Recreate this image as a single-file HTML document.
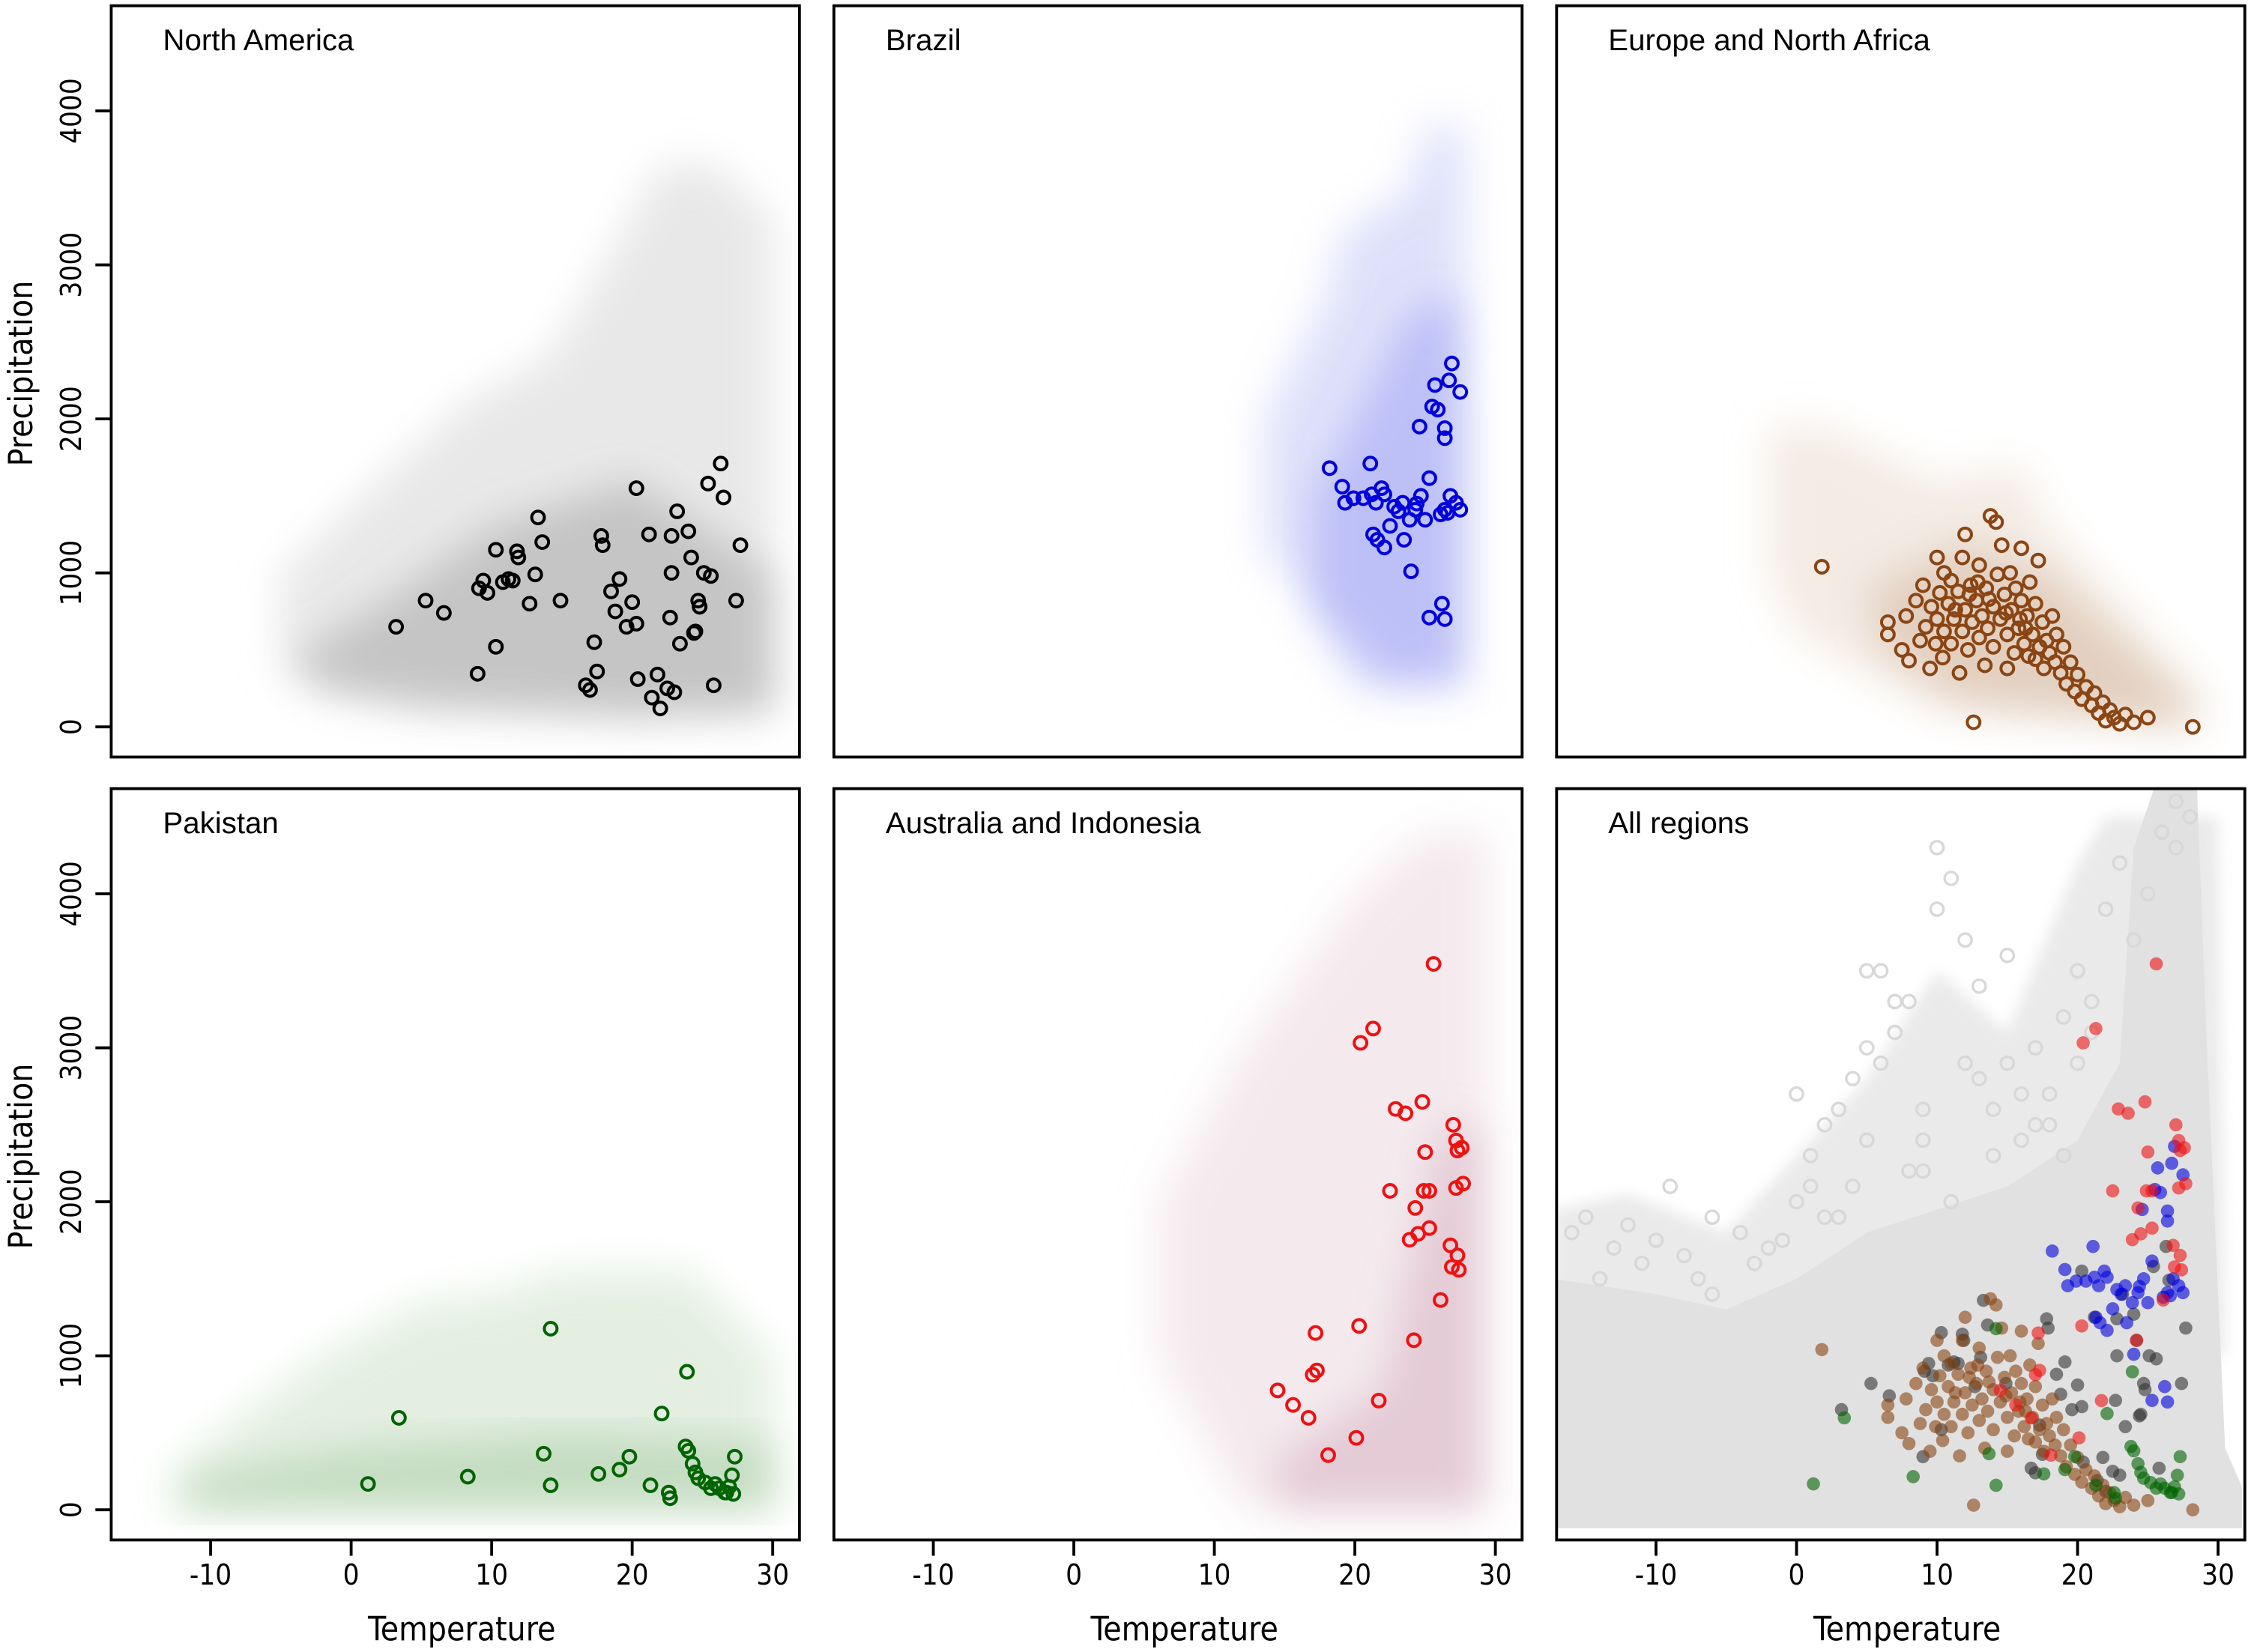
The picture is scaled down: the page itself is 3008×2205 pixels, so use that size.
<!DOCTYPE html>
<html><head><meta charset="utf-8"><style>
html,body{margin:0;padding:0;background:#fff;}
svg{display:block;font-family:"Liberation Sans","DejaVu Sans",sans-serif;}
.ax{font-family:"DejaVu Sans Condensed","DejaVu Sans","Liberation Sans",sans-serif;}
</style></head><body>
<svg id="fig" xmlns="http://www.w3.org/2000/svg" width="3008" height="2205" viewBox="0 0 1568 1150">
<defs>
<filter id="blur" x="-20%" y="-20%" width="140%" height="140%"><feGaussianBlur stdDeviation="14"/></filter>
<filter id="blur2" x="-20%" y="-20%" width="140%" height="140%"><feGaussianBlur stdDeviation="5"/></filter>
</defs>
</svg>
<script>
// ---- data (temperature, precipitation) ----
var xTicks = [-10, 0, 10, 20, 30];
var yTicks = [0, 1000, 2000, 3000, 4000];
var panelTitles = ["North America", "Brazil", "Europe and North Africa", "Pakistan", "Australia and Indonesia", "All regions"];
var naTemp = [3.2,5.3,6.6,9,9.1,9.4,9.7,10.3,10.3,10.8,11.2,11.5,11.8,11.9,12.7,13.1,13.3,13.6,14.9,16.7,17,17.3,17.5,17.8,17.9,18.5,18.8,19.1,19.6,20,20.3,20.3,20.4,21.2,21.4,21.8,22,22.5,22.7,22.8,22.8,23,23.2,23.4,24,24.2,24.5,24.4,24.7,24.8,25.1,25.4,25.8,26.3,26.5,27.4,27.7,25.6];
var naPrec = [650,820,740,345,900,950,870,520,1150,940,960,950,1140,1100,800,990,1360,1200,820,270,240,550,360,1240,1180,880,750,960,650,810,670,1550,310,1250,190,340,120,250,710,1000,1240,225,1400,540,1270,1100,620,610,820,780,1000,1580,270,1710,1490,820,1180,980];
var brTemp = [18.2,19.1,19.3,19.9,20.6,21.1,21.2,21.5,21.9,22.1,21.6,21.3,22.1,22.5,22.8,23.1,23.4,23.5,23.9,24.3,24.7,25.0,25.3,24.6,25.5,25.7,25.9,26.4,26.9,26.7,27.5,26.4,26.6,26.4,27.2,27.5,24.0,25.3,26.2,26.4,24.4,26.1,26.8];
var brPrec = [1680,1560,1455,1485,1485,1710,1510,1455,1550,1510,1215,1250,1165,1305,1430,1400,1455,1215,1345,1410,1500,1345,1615,1950,2080,2220,2060,1940,2360,2250,2175,1875,1390,1410,1455,1410,1010,710,800,700,1450,1380,1500];
var euTemp = [1.8,6.5,6.5,7.5,7.8,8,8.5,8.8,9,9.2,9.5,9.6,10,10,10.2,10.4,10.5,10.8,11,11,11.2,11.5,11.6,11.8,12,12,12.2,12.4,12.5,12.6,12.8,13,13,13.2,13.4,13.5,13.6,13.8,14,14,14.2,14.3,14.5,14.6,14.8,15,15,15.2,15.3,15.5,15.6,15.8,16,16,16.2,16.4,16.5,16.6,16.8,17,17,17.2,17.3,17.5,17.6,17.8,18,18.2,18.4,18.5,18.8,19,19.2,19.5,19.8,20,20.3,20.6,21,21.2,21.5,21.8,22,22.3,22.6,23,23.4,24,25,28.2,10.5,11.8,12.3,13.7,14.9,15.9,16.3,12.9,11.3,9.9];
var euPrec = [1040,680,600,500,720,430,820,560,920,650,380,780,1100,700,870,450,620,800,950,540,700,880,350,620,760,1250,500,920,680,30,820,580,1050,720,400,900,640,1370,780,520,1330,990,700,1180,860,600,380,1000,760,480,900,640,820,1160,540,720,460,940,600,800,440,1080,520,680,380,560,480,720,420,600,350,520,280,420,230,340,180,260,140,220,90,160,40,110,60,20,80,30,60,0,1000,1100,860,830,740,700,640,940,760,540];
var pkTemp = [1.2,3.4,8.3,13.7,14.2,14.2,17.6,19.1,19.8,21.3,22.1,22.6,22.7,23.8,23.9,24.0,24.3,24.5,24.7,25.2,25.6,25.9,26.2,26.6,26.9,27.1,27.2,27.3,26.7];
var pkPrec = [168,597,215,364,159,1176,233,261,345,159,625,112,75,411,896,383,299,243,205,177,140,168,140,112,149,224,103,345,112];
var auTemp = [14.5,15.6,16.7,17.0,17.3,17.2,18.1,20.1,20.3,20.4,21.3,21.7,22.5,22.9,23.6,23.9,24.2,24.3,24.5,24.8,24.9,25.0,25.3,25.3,25.6,26.1,26.8,26.9,27.0,27.2,27.3,27.6,27.3,27.4,27.2,27.7];
var auPrec = [775,681,597,877,905,1148,355,467,1194,3032,3125,709,2071,2603,2575,1754,1101,1960,1792,2649,2071,2323,2071,1829,3545,1362,1717,1577,2500,2398,2333,2351,1652,1558,2090,2118];
// background (global) grey circles
var bgTemp = [-16,-15,-13,-12,-10,-9,-8,-6,-4,-2,0,1,2,3,4,5,6,7,8,9,10,11,12,13,14,15,16,17,18,19,20,21,22,23,-11,-7,-3,1,5,9,13,17,21,25,26,27,28,15,10,5,0,-14,-6,3,11,19,24,27,8,12,6,7,9,2,4,14,16,18,-1,20];
var bgPrec = [1800,1900,1700,1850,1750,2100,1650,1900,1800,1700,2000,2300,2500,2600,2800,3000,2900,3100,3300,2200,3900,4100,3700,3400,2600,2900,2400,3000,2700,3200,3500,3300,3900,4200,1600,1500,1600,2100,2400,2600,2800,2500,3100,4000,4400,4600,4500,3600,4300,3500,2700,1500,1400,1900,2000,2300,3700,4300,2200,2900,3500,3300,2400,1900,2100,2300,2700,2500,1750,2900];
// density cloud outlines (temperature, precipitation)
var naCloudT = [-5,-5,2,8,14,18,22,26,30,30,20,5,-3];
var naCloudP = [400,1000,1600,2100,2400,3000,3650,3650,3300,100,50,100,250];
var naCoreT = [-4,3,10,20,30,30,20,5,-2];
var naCoreP = [450,850,1300,1600,1000,100,80,150,250];
var brCloudT = [13.5,13.5,18,19,24,25,27.8,28,28,20,16];
var brCloudP = [1150,2000,2800,3200,3500,3900,3900,2000,250,250,900];
var brCoreT = [17,20,24,27.5,27.5,22,17];
var brCoreP = [1500,2000,2700,2800,300,300,800];
var euCloudT = [-2,-2,2,10,16,18,29,29,10,0];
var euCloudP = [1000,1950,1950,1600,1700,1300,200,0,100,600];
var euCoreT = [5,12,18,28,28,12,6];
var euCoreP = [900,1200,1000,150,0,150,500];
var pkCloudT = [-12.5,-12.5,-8,-2,5,10,15,24,30,30];
var pkCloudP = [0,250,600,1000,1350,1400,1550,1550,1000,0];
var pkCoreT = [-12,-12,0,15,30,30];
var pkCoreP = [0,200,400,500,450,0];
var auCloudT = [6,6,12,20,25,29.5,29.5,12];
var auCloudP = [1000,2000,3000,4000,4400,4400,0,0];
var auCoreT = [14,22,26,29,29,15];
var auCoreP = [300,800,2500,2500,0,0];
var allSolidT = [-17.3,-10,-5,0,5,10,15,20,23,24,25.5,28.5,29.2,30.5,31.7,31.7,-17.3];
var allSolidP = [1500,1400,1300,1500,1800,1950,2100,2400,2900,4300,4700,4700,3000,400,150,-120,-120];
var allOuterT = [-17.3,-12,-5,0,5,10,15,20,22,30,30.5,-17.3];
var allOuterP = [1950,2050,1800,2300,2800,3500,3100,4200,4500,4500,1000,1000];

// ---- layout ----
var svg = document.getElementById('fig');
var NS = 'http://www.w3.org/2000/svg';
var colX = [77, 580, 1083], rowY = [4, 549], PW = 479, PH = 523;
function sx(col, t){ return colX[col] + 167 + t * 9.78; }
function sy(row, p){ return rowY[row] + 502 - p * 0.1072; }
function mk(tag, attrs, parent){ var e = document.createElementNS(NS, tag); for (var k in attrs) e.setAttribute(k, attrs[k]); (parent || svg).appendChild(e); return e; }
function poly(col,row,T,P){ var s=''; for (var i=0;i<T.length;i++) s += sx(col,T[i]).toFixed(1)+','+sy(row,P[i]).toFixed(1)+' '; return s; }

var panels = [
  {col:0,row:0,T:naTemp,P:naPrec,c:'#000'},
  {col:1,row:0,T:brTemp,P:brPrec,c:'#0000dd'},
  {col:2,row:0,T:euTemp,P:euPrec,c:'#8b4513'},
  {col:0,row:1,T:pkTemp,P:pkPrec,c:'#006400'},
  {col:1,row:1,T:auTemp,P:auPrec,c:'#ee1111'}
];
var clouds = [
  [0,0,naCloudT,naCloudP,'#d8d8d8',0.6],[0,0,naCoreT,naCoreP,'#9a9a9a',0.45],
  [1,0,brCloudT,brCloudP,'#b8bcf5',0.45],[1,0,brCoreT,brCoreP,'#7c84f0',0.35],
  [2,0,euCloudT,euCloudP,'#e4d2c4',0.45],[2,0,euCoreT,euCoreP,'#c29a7c',0.35],
  [0,1,pkCloudT,pkCloudP,'#c9dfc6',0.5],[0,1,pkCoreT,pkCoreP,'#93bd8e',0.4],
  [1,1,auCloudT,auCloudP,'#e6d0da',0.45],[1,1,auCoreT,auCoreP,'#c58fa8',0.35]
];

for (var pi = 0; pi < 6; pi++) {
  var col = pi % 3, row = Math.floor(pi / 3);
  var g = mk('g', {});
  
  
  var cp = mk('clipPath', {id:'clip'+pi}, g);
  mk('rect', {x:colX[col], y:rowY[row], width:PW, height:PH}, cp);
  var inner = mk('g', {'clip-path':'url(#clip'+pi+')'}, g);
  if (pi === 5) {
    var outer = mk('polygon', {points:poly(2,1,allOuterT,allOuterP), fill:'#eaeaea', filter:'url(#blur2)'}, inner);
    
    
    var solid = mk('polygon', {points:poly(2,1,allSolidT,allSolidP), fill:'#e1e1e1'}, inner);
    
    
    for (var b = 0; b < bgTemp.length; b++) {
      var bc = mk('circle', {cx:sx(2,bgTemp[b]), cy:sy(1,bgPrec[b]), r:4.5, fill:'none', stroke:'#d8d8d8', 'stroke-width':1.8}, inner);
      
      
    }
    for (var q = 0; q < panels.length; q++) {
      var pd = panels[q];
      for (var j = 0; j < pd.T.length; j++) {
        var fc = mk('circle', {cx:sx(2,pd.T[j]), cy:sy(1,pd.P[j]), r:4.6, fill:(q===0?'#333':pd.c), 'fill-opacity':0.6}, inner);
        
        
      }
    }
  } else {
    for (var c = 0; c < clouds.length; c++) {
      var cl = clouds[c];
      if (cl[0] !== col || cl[1] !== row) continue;
      var cpoly = mk('polygon', {points:poly(col,row,cl[2],cl[3]), fill:cl[4], 'fill-opacity':cl[5], filter:'url(#blur)'}, inner);
      
      
    }
    var pdd = panels[pi];
    for (var k = 0; k < pdd.T.length; k++) {
      var oc = mk('circle', {cx:sx(col,pdd.T[k]), cy:sy(row,pdd.P[k]), r:4.4, fill:'none', stroke:pdd.c, 'stroke-width':2.1}, inner);
      
      
    }
  }
  var fr = mk('rect', {x:colX[col], y:rowY[row], width:PW, height:PH, fill:'none', stroke:'#000', 'stroke-width':2}, g);
  
  
  var tt = mk('text', {x:colX[col]+36, y:rowY[row]+31, 'font-size':21, fill:'#000'}, g);
  tt.textContent = panelTitles[pi];
  
  

  if (col === 0) {
    for (var yi = 0; yi < yTicks.length; yi++) {
      var yy = sy(row, yTicks[yi]);
      var tk = mk('line', {x1:colX[0], x2:colX[0]-11, y1:yy, y2:yy, stroke:'#000', 'stroke-width':2}, g);
      
      
      var tl = mk('text', {x:0, y:0, 'class':'ax', transform:'translate(56,'+yy+') rotate(-90)', 'text-anchor':'middle', 'font-size':20, fill:'#000'}, g);
      tl.textContent = yTicks[yi];
      
      
    }
    var yt = mk('text', {x:0, y:0, 'class':'ax', transform:'translate(22,'+(rowY[row]+256)+') rotate(-90)', 'text-anchor':'middle', 'font-size':23, fill:'#000'}, g);
    yt.textContent = 'Precipitation';
    
    
  }
  if (row === 1) {
    for (var xi = 0; xi < xTicks.length; xi++) {
      var xx = sx(col, xTicks[xi]);
      var xk = mk('line', {x1:xx, x2:xx, y1:rowY[1]+PH, y2:rowY[1]+PH+11, stroke:'#000', 'stroke-width':2}, g);
      
      
      var xl = mk('text', {x:xx, y:1103, 'class':'ax', 'text-anchor':'middle', 'font-size':20, fill:'#000'}, g);
      xl.textContent = xTicks[xi];
      
      
    }
    var xt = mk('text', {x:colX[col]+244, y:1142, 'class':'ax', 'text-anchor':'middle', 'font-size':23, fill:'#000'}, g);
    xt.textContent = 'Temperature';
    
    
  }
}
</script>
</body></html>
